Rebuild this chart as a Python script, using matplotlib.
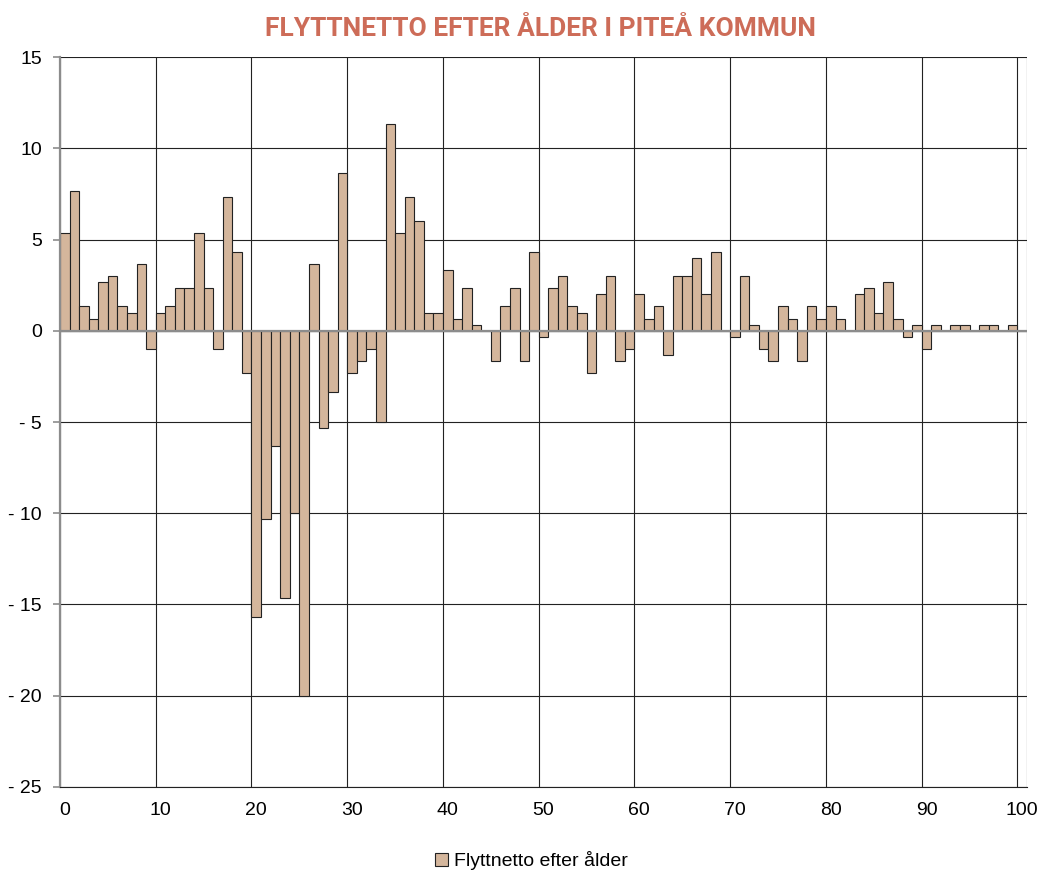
import numpy as np
import matplotlib.pyplot as plt
from matplotlib.patches import Patch

# ------------------------------
# Data
# ------------------------------
ages = np.arange(0, 101)
netto = [
    5.33, 7.67, 1.33, 0.67, 2.67, 3.0, 1.33, 1.0, 3.67, -1.0,          # 0-9
    1.0, 1.33, 2.33, 2.33, 5.33, 2.33, -1.0, 7.33, 4.33, -2.33,        # 10-19
    -15.67, -10.33, -6.33, -14.67, -10.0, -20.0, 3.67, -5.33, -3.33, 8.67,  # 20-29
    -2.33, -1.67, -1.0, -5.0, 11.33, 5.33, 7.33, 6.0, 1.0, 1.0,        # 30-39
    3.33, 0.67, 2.33, 0.33, 0.0, -1.67, 1.33, 2.33, -1.67, 4.33,       # 40-49
    -0.33, 2.33, 3.0, 1.33, 1.0, -2.33, 2.0, 3.0, -1.67, -1.0,         # 50-59
    2.0, 0.67, 1.33, -1.33, 3.0, 3.0, 4.0, 2.0, 4.33, 0.0,             # 60-69
    -0.33, 3.0, 0.33, -1.0, -1.67, 1.33, 0.67, -1.67, 1.33, 0.67,      # 70-79
    1.33, 0.67, 0.0, 2.0, 2.33, 1.0, 2.67, 0.67, -0.33, 0.33,          # 80-89
    -1.0, 0.33, 0.0, 0.33, 0.33, 0.0, 0.33, 0.33, 0.0, 0.33,           # 90-99
    0.0,                                                              # 100
]
x_labels = [str(v) for v in range(0, 101, 10)]
y_ticks = list(range(-25, 16, 5))

title = "FLYTTNETTO EFTER ÅLDER I PITEÅ KOMMUN"
series_name = "Flyttnetto efter ålder"

bar_color = "#D4B69C"
title_color = "#CD6C58"

plt.rcParams["font.family"] = ["Liberation Sans", "DejaVu Sans"]

fig = plt.figure(figsize=(10.42, 8.72), dpi=100)
ax = fig.add_axes([0.0576, 0.0975, 0.928, 0.8371])

# ---- bars, one category per age (edge aligned like Excel's category axis) ----
ax.bar(ages, netto, width=1.0, align="edge", color=bar_color,
       edgecolor="#222222", linewidth=0.8, zorder=2)

# zero axis line, grey, drawn over the bars
ax.axhline(0, color="#8c8c8c", linewidth=1.6, zorder=3)

# ---- axes ----
ax.set_xlim(0, 101)
ax.set_ylim(-25, 15)

ax.set_xticks(np.arange(0, 101, 10) + 0.5)
ax.set_xticklabels(x_labels)
ax.set_xticks(list(range(0, 101, 10)) + [101], minor=True)
ax.tick_params(axis="x", which="both", length=0, pad=11, labelsize=14)

ax.set_yticks(y_ticks)
ax.set_yticklabels([f"- {abs(v)}" if v < 0 else str(v) for v in y_ticks])
ax.tick_params(axis="y", length=5, width=1.2, color="#8c8c8c", pad=8,
               labelsize=14)

ax.grid(axis="y", which="major", color="#222222", linewidth=0.8, zorder=0)
ax.grid(axis="x", which="minor", color="#222222", linewidth=0.8, zorder=0)
ax.set_axisbelow(True)

for side in ("top", "right"):
    ax.spines[side].set_visible(False)
ax.spines["bottom"].set_color("#222222")
ax.spines["bottom"].set_linewidth(0.8)
ax.spines["left"].set_color("#8c8c8c")
ax.spines["left"].set_linewidth(1.6)

# ---- title + legend ----
fig.text(0.519, 0.967, title, ha="center", va="center", fontsize=19,
         fontweight="bold", color=title_color, family=["Roboto", "DejaVu Sans"])

fig.legend(handles=[Patch(facecolor=bar_color, edgecolor="#222222",
                          linewidth=0.8, label=series_name)],
           loc="center", bbox_to_anchor=(0.51, 0.013), frameon=False,
           fontsize=14, handlelength=0.65, handleheight=0.65,
           handletextpad=0.3, borderpad=0)

fig.savefig("out.png", dpi=100)
